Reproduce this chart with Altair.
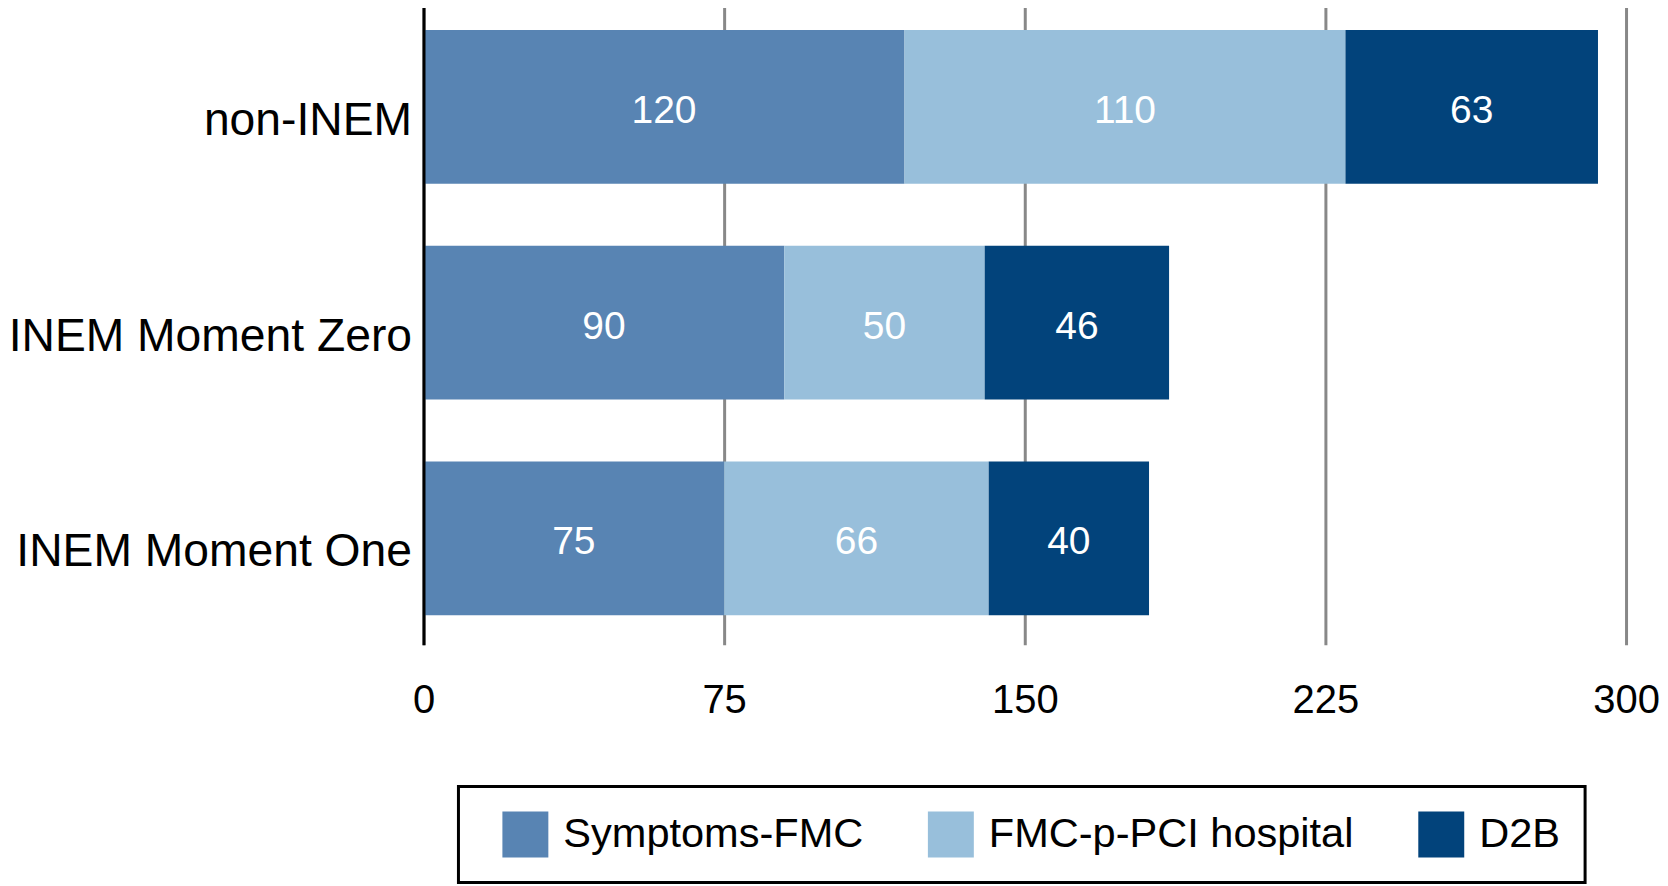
import altair as alt
import pandas as pd

categories = ["non-INEM", "INEM Moment Zero", "INEM Moment One"]
series = ["Symptoms-FMC", "FMC-p-PCI hospital", "D2B"]
symptoms_fmc = [120, 90, 75]
fmc_ppci = [110, 50, 66]
d2b = [63, 46, 40]
colors = ["#5884B3", "#98BFDB", "#02437B"]
x_ticks = [0, 75, 150, 225, 300]

rows = []
for s_i, (name, vals) in enumerate(zip(series, [symptoms_fmc, fmc_ppci, d2b])):
    for cat, v in zip(categories, vals):
        rows.append({"cat": cat, "series": name, "idx": s_i, "value": v})
df = pd.DataFrame(rows)

FONT = "Liberation Sans"

base = alt.Chart(df).transform_stack(
    stack="value", groupby=["cat"], sort=[alt.SortField("idx", order="ascending")], as_=["x0", "x1"]
).transform_calculate(mid="(datum.x0 + datum.x1) / 2")

yenc = alt.Y(
    "cat:N",
    sort=categories,
    title=None,
    scale=alt.Scale(paddingInner=0.287, paddingOuter=0.137),
    axis=alt.Axis(
        labelFontSize=46.3, labelColor="black", labelFont=FONT, labelPadding=12,
        labelOffset=14,
        ticks=False, domainColor="black", domainWidth=3, grid=False, labelLimit=1000,
        zindex=1,
    ),
)

bars = base.mark_bar().encode(
    x=alt.X(
        "x0:Q",
        scale=alt.Scale(domain=[0, 300], nice=False),
        title=None,
        axis=alt.Axis(
            values=x_ticks, labelFontSize=40, labelColor="black", labelFont=FONT,
            ticks=False, domain=False, grid=True, gridColor="#888888", gridWidth=3,
            labelPadding=36, labelFlush=False,
        ),
    ),
    x2="x1:Q",
    y=yenc,
    color=alt.Color(
        "series:N",
        scale=alt.Scale(domain=series, range=colors),
        legend=alt.Legend(
            title="\u00a0", titleOrient="left", titleFontSize=1, titlePadding=19,
            orient="none", legendX=35, legendY=787, direction="horizontal",
            columns=3, symbolType="square", symbolSize=2116, symbolStrokeWidth=0,
            labelFontSize=41.6, labelFont=FONT, labelColor="black", labelOffset=15,
            columnPadding=64, padding=25, strokeColor="black",
            fillColor="white", labelLimit=1000, symbolOpacity=1,
        ),
    ),
    order=alt.Order("idx:Q"),
)

labels = base.mark_text(color="white", fontSize=39, font=FONT, baseline="middle", dy=4).encode(
    x="mid:Q",
    y=alt.Y("cat:N", sort=categories),
    text="value:Q",
)

chart = alt.layer(bars, labels).properties(
    width=1204, height=645,
    padding={"left": 0, "top": -8, "right": 0, "bottom": 0},
    background="white",
).configure_view(stroke=None).configure_legend(strokeWidth=3)

chart.save("out.html", embed_options={"renderer": "svg", "actions": False})
